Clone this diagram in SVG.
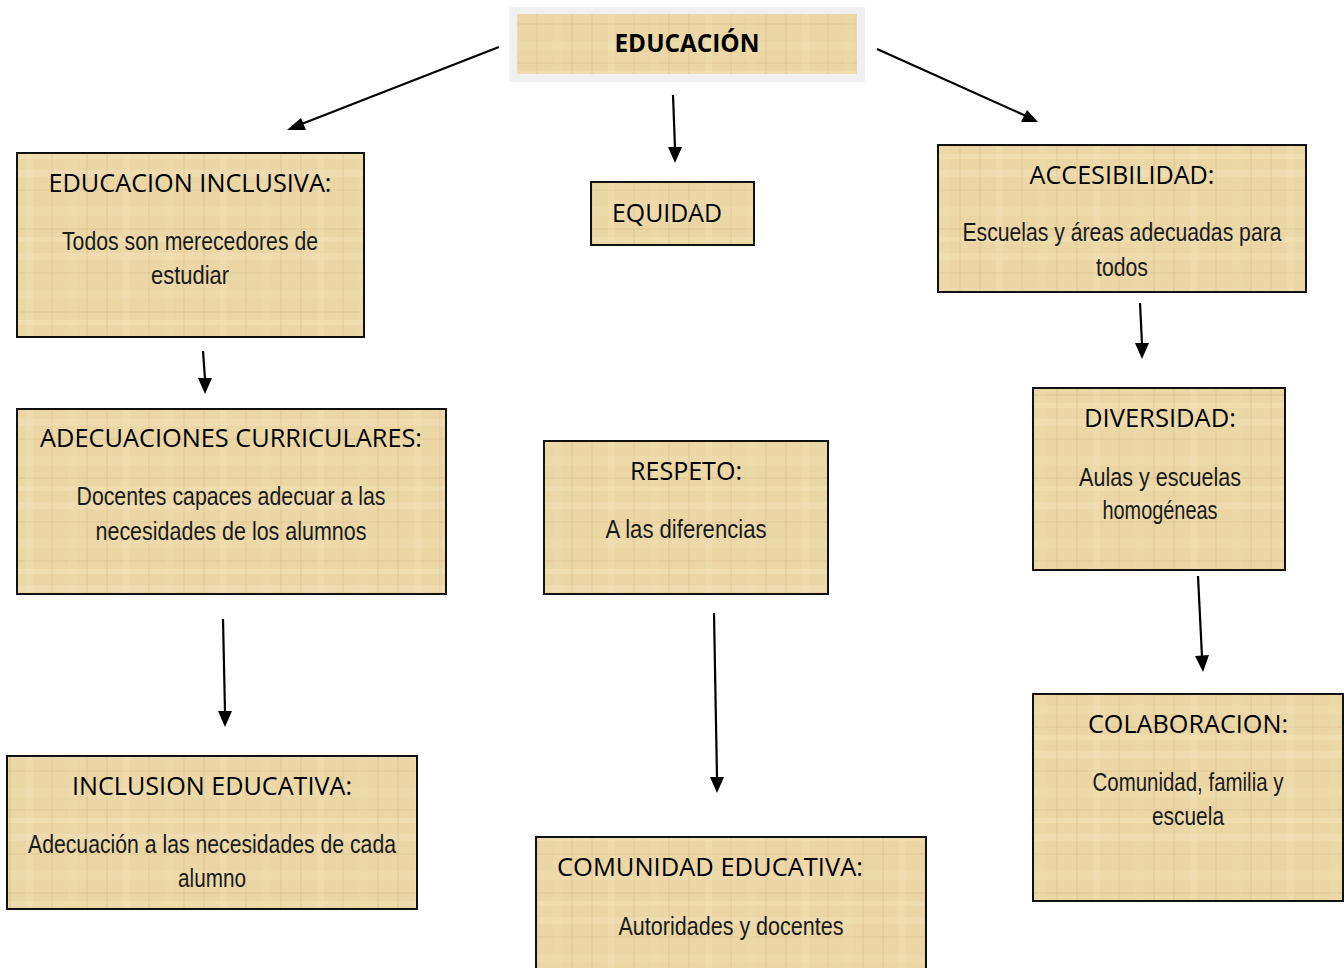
<svg xmlns="http://www.w3.org/2000/svg" width="1344" height="968" viewBox="0 0 1344 968">
<defs>
<pattern id="papyrus" patternUnits="userSpaceOnUse" width="97" height="83">
<rect width="97" height="83" fill="#ebd7a5"/>
<rect x="0" y="4" width="97" height="7" fill="#f2e3bc" opacity="0.45"/>
<rect x="0" y="23" width="97" height="2" fill="#d9bf88" opacity="0.3"/>
<rect x="0" y="41" width="97" height="9" fill="#efdfb4" opacity="0.35"/>
<rect x="0" y="62" width="97" height="2" fill="#d7bc84" opacity="0.3"/>
<rect x="0" y="71" width="97" height="5" fill="#f3e6c2" opacity="0.35"/>
<rect x="9" y="0" width="2" height="83" fill="#d8be87" opacity="0.3"/>
<rect x="26" y="0" width="7" height="83" fill="#f1e2b9" opacity="0.35"/>
<rect x="51" y="0" width="2" height="83" fill="#d6ba82" opacity="0.25"/>
<rect x="68" y="0" width="9" height="83" fill="#efdeb2" opacity="0.3"/>
<rect x="86" y="0" width="2" height="83" fill="#dac18b" opacity="0.3"/>
</pattern>
<marker id="arrow" viewBox="0 0 10 10" refX="9" refY="5" markerWidth="8" markerHeight="8" markerUnits="userSpaceOnUse" orient="auto">
<path d="M0,0 L10,5 L0,10 Z" fill="#000"/>
</marker>
</defs>
<style>
.box{fill:url(#papyrus);stroke:#111;stroke-width:2}
.title{font-family:"Open Sans","Noto Sans",sans-serif;font-size:25px;fill:#000;text-anchor:middle}
.sub{font-family:"Liberation Sans","Roboto",sans-serif;font-size:25px;fill:#1a1a1a;text-anchor:middle}
.conn{stroke:#000;stroke-width:2.2;fill:none}
.head{fill:#000}
</style>
<rect width="1344" height="968" fill="#fff"/>
<g id="connectors">
<line class="conn" x1="499" y1="47" x2="299" y2="125"/>
<path class="head" d="M287,130 L301,118 L306,130 Z"/>
<line class="conn" x1="673" y1="95" x2="675" y2="148"/>
<path class="head" d="M668,147 L682,147 L675,163 Z"/>
<line class="conn" x1="877" y1="49" x2="1026" y2="116"/>
<path class="head" d="M1038,122 L1021,122 L1027,110 Z"/>
<line class="conn" x1="203" y1="351" x2="205" y2="379"/>
<path class="head" d="M198,378 L212,378 L205,394 Z"/>
<line class="conn" x1="223" y1="619" x2="225" y2="712"/>
<path class="head" d="M218,711 L232,711 L225,727 Z"/>
<line class="conn" x1="714" y1="613" x2="717" y2="778"/>
<path class="head" d="M710,777 L724,777 L717,793 Z"/>
<line class="conn" x1="1140" y1="303" x2="1142" y2="344"/>
<path class="head" d="M1135,343 L1149,343 L1142,359 Z"/>
<line class="conn" x1="1198" y1="576" x2="1202" y2="657"/>
<path class="head" d="M1195,656 L1209,655 L1203,672 Z"/>
</g>
<g id="educacion">
<rect x="509" y="7" width="356" height="75" fill="#f0f0f0"/>
<rect x="517" y="14" width="340" height="60" fill="url(#papyrus)"/>
<text class="title" x="687" y="52" font-weight="bold" textLength="145" lengthAdjust="spacingAndGlyphs">EDUCACIÓN</text>
</g>
<g id="educacion-inclusiva">
<rect class="box" x="17" y="153" width="347" height="184"/>
<text class="title" x="190" y="192" textLength="283" lengthAdjust="spacingAndGlyphs">EDUCACION INCLUSIVA:</text>
<text class="sub" x="190" y="250" textLength="256" lengthAdjust="spacingAndGlyphs">Todos son merecedores de</text>
<text class="sub" x="190" y="284" textLength="78" lengthAdjust="spacingAndGlyphs">estudiar</text>
</g>
<g id="equidad">
<rect class="box" x="591" y="182" width="163" height="63"/>
<text class="title" x="667" y="222" textLength="110" lengthAdjust="spacingAndGlyphs">EQUIDAD</text>
</g>
<g id="accesibilidad">
<rect class="box" x="938" y="145" width="368" height="147"/>
<text class="title" x="1122" y="184" textLength="185" lengthAdjust="spacingAndGlyphs">ACCESIBILIDAD:</text>
<text class="sub" x="1122" y="241" textLength="319" lengthAdjust="spacingAndGlyphs">Escuelas y áreas adecuadas para</text>
<text class="sub" x="1122" y="276" textLength="52" lengthAdjust="spacingAndGlyphs">todos</text>
</g>
<g id="adecuaciones">
<rect class="box" x="17" y="409" width="429" height="185"/>
<text class="title" x="231" y="447" textLength="382" lengthAdjust="spacingAndGlyphs">ADECUACIONES CURRICULARES:</text>
<text class="sub" x="231" y="505" textLength="309" lengthAdjust="spacingAndGlyphs">Docentes capaces adecuar a las</text>
<text class="sub" x="231" y="540" textLength="271" lengthAdjust="spacingAndGlyphs">necesidades de los alumnos</text>
</g>
<g id="respeto">
<rect class="box" x="544" y="441" width="284" height="153"/>
<text class="title" x="686" y="480" textLength="112" lengthAdjust="spacingAndGlyphs">RESPETO:</text>
<text class="sub" x="686" y="538" textLength="161" lengthAdjust="spacingAndGlyphs">A las diferencias</text>
</g>
<g id="diversidad">
<rect class="box" x="1033" y="388" width="252" height="182"/>
<text class="title" x="1160" y="427" textLength="152" lengthAdjust="spacingAndGlyphs">DIVERSIDAD:</text>
<text class="sub" x="1160" y="486" textLength="162" lengthAdjust="spacingAndGlyphs">Aulas y escuelas</text>
<text class="sub" x="1160" y="519" textLength="115" lengthAdjust="spacingAndGlyphs">homogéneas</text>
</g>
<g id="inclusion-educativa">
<rect class="box" x="7" y="756" width="410" height="153"/>
<text class="title" x="212" y="795" textLength="280" lengthAdjust="spacingAndGlyphs">INCLUSION EDUCATIVA:</text>
<text class="sub" x="212" y="853" textLength="368" lengthAdjust="spacingAndGlyphs">Adecuación a las necesidades de cada</text>
<text class="sub" x="212" y="887" textLength="68" lengthAdjust="spacingAndGlyphs">alumno</text>
</g>
<g id="comunidad-educativa">
<rect class="box" x="536" y="837" width="390" height="140"/>
<text class="title" x="710" y="876" textLength="306" lengthAdjust="spacingAndGlyphs">COMUNIDAD EDUCATIVA:</text>
<text class="sub" x="731" y="935" textLength="225" lengthAdjust="spacingAndGlyphs">Autoridades y docentes</text>
</g>
<g id="colaboracion">
<rect class="box" x="1033" y="694" width="310" height="207"/>
<text class="title" x="1188" y="733" textLength="200" lengthAdjust="spacingAndGlyphs">COLABORACION:</text>
<text class="sub" x="1188" y="791" textLength="191" lengthAdjust="spacingAndGlyphs">Comunidad, familia y</text>
<text class="sub" x="1188" y="825" textLength="72" lengthAdjust="spacingAndGlyphs">escuela</text>
</g>
</svg>
